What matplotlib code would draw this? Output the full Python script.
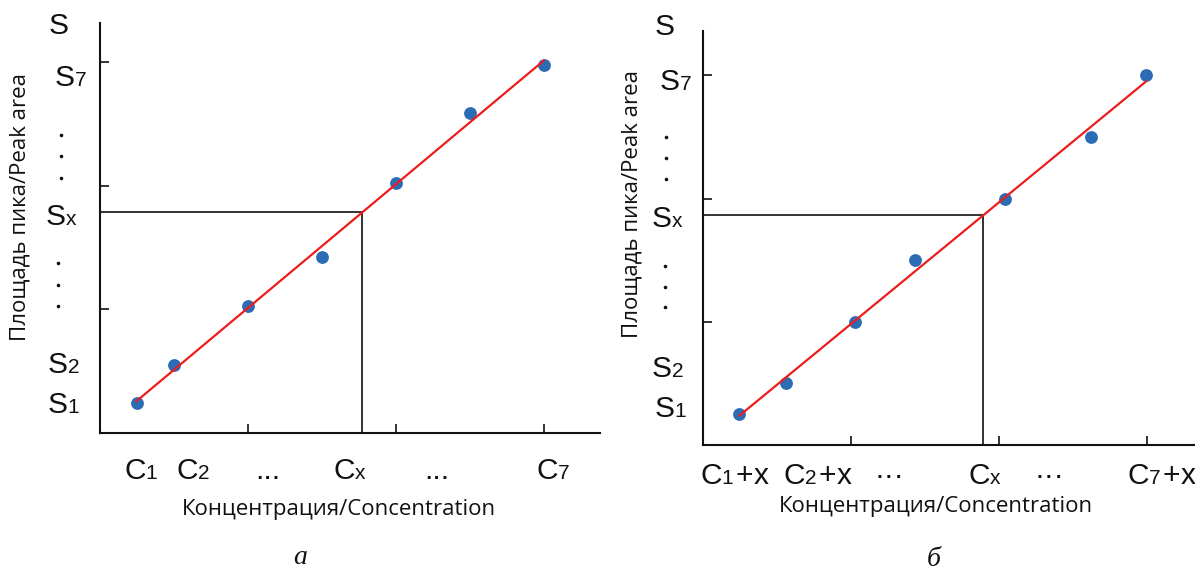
import numpy as np
import matplotlib
matplotlib.use("Agg")
import matplotlib.pyplot as plt

try:
    from matplotlib import _mathtext as _mt
    _mt.FontConstantsBase.subdrop = 0.0
    _mt.FontConstantsBase.sub1 = 0.0
except Exception:
    pass

# ---------------- data ----------------
# panel a: calibration standards
conc_a = [0.5, 1.0, 2.0, 3.0, 4.0, 5.0, 6.0]
area_a = [0.48, 1.10, 2.05, 2.84, 4.04, 5.18, 5.95]
cx_a = 3.55
# panel b: standard additions
conc_b = [0.49, 1.12, 2.05, 2.86, 4.08, 5.25, 5.99]
area_b = [0.5, 1.0, 2.0, 3.0, 4.0, 5.0, 6.0]
cx_b = 3.79
ticks = [2, 4, 6]

ylabels_text = ["S", r"S_{7}", r"S_{x}", r"S_{2}", r"S_{1}"]
xlabels_a = [r"C_{1}", r"C_{2}", "...", r"C_{x}", "...", r"C_{7}"]
xlabels_b = [r"C_{1}\!+\!x", r"C_{2}\!+\!x", "···", r"C_{x}", "···", r"C_{7}\!+\!x"]
xtitle = "Концентрация/Concentration"
ytitle = "Площадь пика/Peak area"
captions = ["а", "б"]

plt.rcParams["mathtext.fontset"] = "custom"
plt.rcParams["mathtext.rm"] = "Liberation Sans"
plt.rcParams["mathtext.sf"] = "Liberation Sans"
plt.rcParams["mathtext.it"] = "Liberation Sans"

W, H = 1195, 572
fig = plt.figure(figsize=(W / 100, H / 100), dpi=100)

TXT = "#111111"
BLUE = "#2b6cb5"
RED = "#ee1c1c"
LBL_FS = 21.5
TITLE_FS = 16


def mt(s):
    if s in ("...", "···", "S"):
        return s
    return "$\\mathregular{" + s + "}$"


def panel(rect, xlim, ylim, conc, area, cx, ylab_pos, xlab_pos, xlabs,
          xt_pos, yt_pos, cap_pos, cap):
    ax = fig.add_axes(rect)
    ax.set_xlim(*xlim)
    ax.set_ylim(*ylim)
    for s in ("top", "right"):
        ax.spines[s].set_visible(False)
    for s in ("left", "bottom"):
        ax.spines[s].set_linewidth(1.5)
        ax.spines[s].set_color("#111111")
    ax.set_xticks(ticks)
    ax.set_yticks(ticks)
    ax.set_xticklabels([])
    ax.set_yticklabels([])
    ax.tick_params(direction="in", length=6.5, width=1.2, color="#111111")

    k, b = np.polyfit(conc, area, 1)
    sx = k * cx + b
    ax.plot([cx, cx, 0], [0, sx, sx], color="#111111", lw=1.2, zorder=2)
    ax.scatter(conc, area, s=85, color=BLUE, zorder=3, linewidths=0)
    xs = np.array([conc[0], conc[-1]])
    ax.plot(xs, k * xs + b, color=RED, lw=1.6, zorder=4)

    # y-side labels
    for t, (x, y) in zip(ylabels_text, ylab_pos["labels"]):
        ax.text(x, y, mt(t), fontsize=LBL_FS, color=TXT, family="Liberation Sans",
                ha="center", va="center", clip_on=False)
    for (x, y) in ylab_pos["dots"]:
        ax.plot([x], [y], "o", ms=2.6, color=TXT, mew=0, clip_on=False)
    for t, x in zip(xlabs, xlab_pos[0]):
        ax.text(x, xlab_pos[1], mt(t), fontsize=LBL_FS, color=TXT,
                family="Liberation Sans", ha="center", va="center", clip_on=False)
    ax.text(xt_pos[0], xt_pos[1], xtitle, fontsize=TITLE_FS, color=TXT,
            family=["Open Sans", "DejaVu Sans"], ha="center", va="center", clip_on=False)
    ax.text(yt_pos[0], yt_pos[1], ytitle, fontsize=TITLE_FS, color=TXT, rotation=90,
            family=["Open Sans", "DejaVu Sans"], ha="center", va="center", clip_on=False)
    ax.text(cap_pos[0], cap_pos[1], cap, fontsize=20, color="#111111",
            family="Liberation Serif", style="italic", ha="center", va="center",
            clip_on=False)
    return ax


# panel a
ax_a = panel([99.5 / W, (H - 433) / H, (600 - 99.5) / W, (433 - 22.6) / H],
             (0, 6.76), (0, 6.64), conc_a, area_a, cx_a,
             {"labels": [(-0.55, 6.59), (-0.39, 5.74), (-0.52, 3.49), (-0.49, 1.10), (-0.49, 0.45)],
              "dots": [(-0.52, 4.82), (-0.52, 4.48), (-0.52, 4.12),
                       (-0.56, 2.75), (-0.56, 2.39), (-0.56, 2.05)]},
             ([0.57, 1.26, 2.28, 3.39, 4.55, 6.13], -0.61), xlabels_a,
             (3.23, -1.23), (-1.08, 3.65), (2.71, -2.02), captions[0])

# panel b
ax_b = panel([703.2 / W, (H - 445) / H, (W - 703.2) / W, (445 - 31) / H],
             (0, 6.65), (0, 6.72), conc_b, area_b, cx_b,
             {"labels": [(-0.52, 6.78), (-0.37, 5.89), (-0.48, 3.67), (-0.48, 1.24), (-0.45, 0.59)],
              "dots": [(-0.50, 5.0), (-0.50, 4.66), (-0.50, 4.32),
                       (-0.52, 2.91), (-0.52, 2.57), (-0.52, 2.24)]},
             ([0.43, 1.55, 2.52, 3.81, 4.68, 6.2], -0.50), xlabels_b,
             (3.15, -1.0), (-0.96, 3.92), (3.12, -1.86), captions[1])

fig.savefig("out.png", dpi=100, facecolor="white")
